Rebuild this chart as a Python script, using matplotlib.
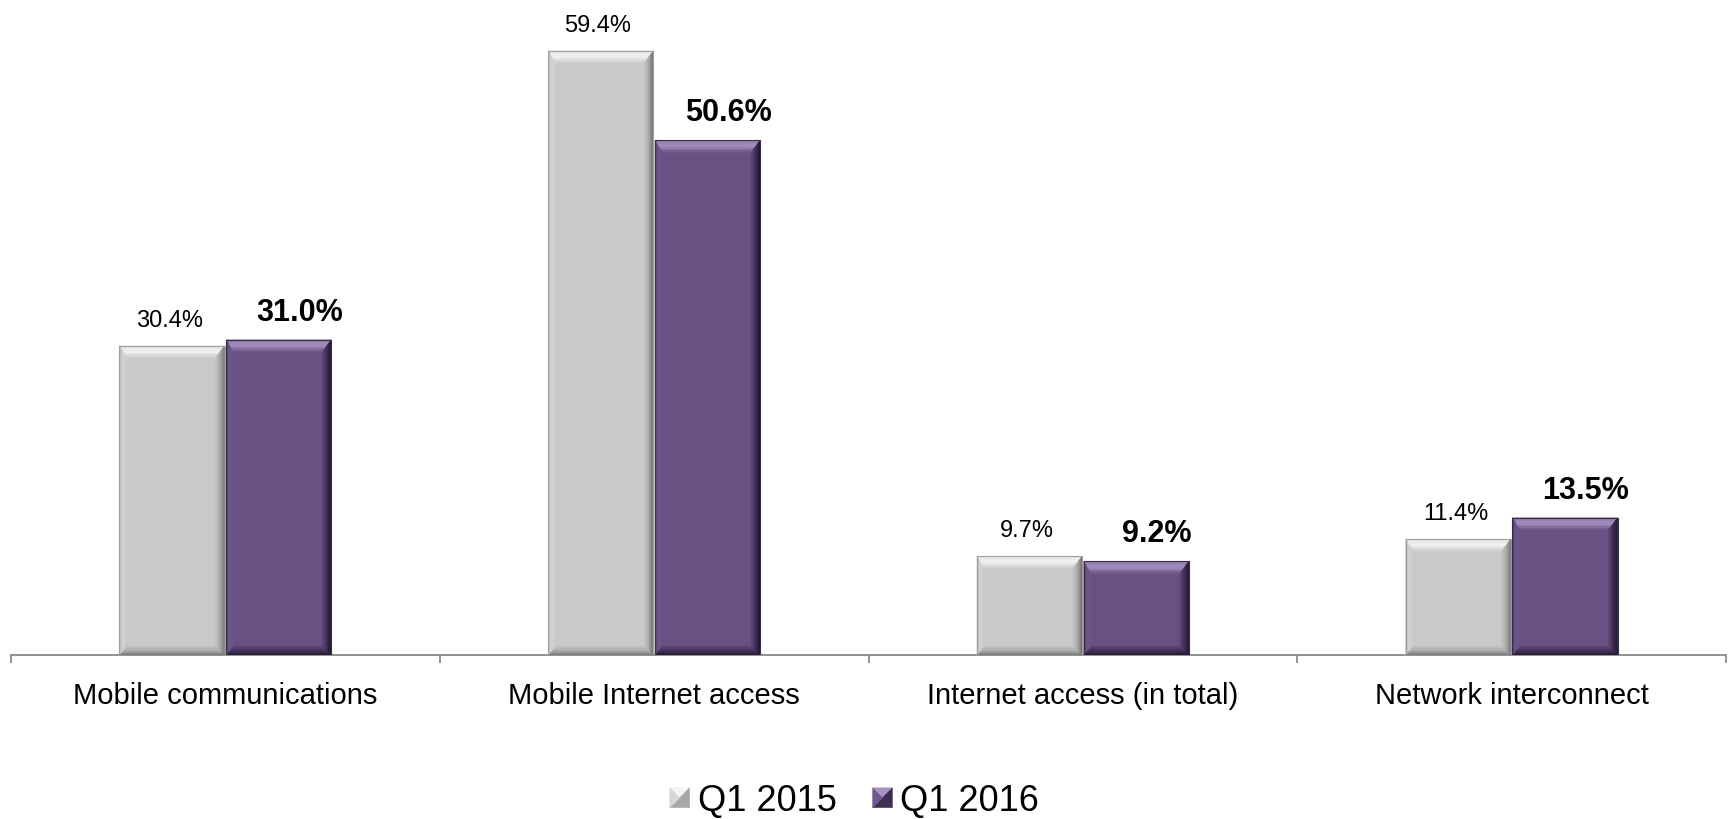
import numpy as np
import matplotlib.pyplot as plt
from matplotlib.colors import to_rgb
from matplotlib.patches import Polygon, Patch
from matplotlib.legend_handler import HandlerBase

# Datos del gráfico
categories = ['Mobile communications', 'Mobile Internet access',
              'Internet access (in total)', 'Network interconnect']
series_names = ['Q1 2015', 'Q1 2016']
q1_2015 = [30.4, 59.4, 9.7, 11.4]
q1_2016 = [31.0, 50.6, 9.2, 13.5]

# Colores de cara y biseles: (exterior, interior) para arriba, derecha, abajo, izquierda
styles = {
    'Q1 2015': dict(face='#C9C9C9', edge='#A0A0A0',
                    bevel=[('#E4E4E4', '#F4F4F4', '#CDCDCD'),
                           ('#6A6A6A', '#A5A5A5', '#C4C4C4'),
                           ('#777777', '#A8A8A8', '#C4C4C4'),
                           ('#B4B4B4', '#D6D6D6', '#CBCBCB')]),
    'Q1 2016': dict(face='#685183', edge='#3A2C48',
                    bevel=[('#8F7AAC', '#A793C2', '#6C5688'),
                           ('#1C1426', '#3A2C4E', '#5E4878'),
                           ('#241A31', '#3E2F52', '#5F4979'),
                           ('#4C3C62', '#6E5890', '#6A5385')]),
}

plt.rcParams['font.family'] = ['Liberation Sans', 'DejaVu Sans']

W, H = 1735, 820
fig = plt.figure(figsize=(W / 100, H / 100), dpi=100)
ax = fig.add_axes([11 / W, 164 / H, 1715 / W, 656 / H])

x = np.arange(len(categories))
width = 0.245
ax.set_xlim(-0.5, len(categories) - 0.5)
ax.set_ylim(0, 64.5)


def lerp(p, q, f):
    return (p[0] + f * (q[0] - p[0]), p[1] + f * (q[1] - p[1]))


def ramp(stops, f):
    """Color en una rampa de tres paradas (exterior, medio, interior)."""
    c = [np.array(to_rgb(s)) for s in stops]
    if f < 0.5:
        return tuple(c[0] + (c[1] - c[0]) * f * 2)
    return tuple(c[1] + (c[2] - c[1]) * (f - 0.5) * 2)


def add_bevel(ax, rect, st, t=12, r=9, b=9, l=7, n=8):
    """Dibuja el marco biselado de una barra (tamaños en píxeles)."""
    x0, y0 = rect.get_x(), rect.get_y()
    x1, y1 = x0 + rect.get_width(), y0 + rect.get_height()
    (px0, py0), (px1, py1) = ax.transData.transform([(x0, y0), (x1, y1)])
    outer = [(px0, py1), (px1, py1), (px1, py0), (px0, py0)]
    inner = [(px0 + l, py1 - t), (px1 - r, py1 - t), (px1 - r, py0 + b), (px0 + l, py0 + b)]
    inv = ax.transData.inverted()
    for side in range(4):
        i, j = side, (side + 1) % 4
        for k in range(n):
            f0, f1 = k / n, (k + 1) / n
            quad = [lerp(outer[i], inner[i], f0), lerp(outer[j], inner[j], f0),
                    lerp(outer[j], inner[j], f1), lerp(outer[i], inner[i], f1)]
            col = ramp(st['bevel'][side], (f0 + f1) / 2)
            ax.add_patch(Polygon(inv.transform(quad), closed=True, facecolor=col,
                                 edgecolor=col, linewidth=0.3, zorder=3))
    ax.add_patch(plt.Rectangle((x0, y0), x1 - x0, y1 - y0, fill=False,
                               edgecolor=st['edge'], linewidth=0.8, zorder=4))


for vals, name, off in [(q1_2015, series_names[0], -0.1245),
                        (q1_2016, series_names[1], 0.1245)]:
    st = styles[name]
    bars = ax.bar(x + off, vals, width, color=st['face'], zorder=2)
    for rect, v in zip(bars, vals):
        add_bevel(ax, rect, st)
        cx = rect.get_x() + rect.get_width() / 2
        if name == 'Q1 2016':
            ax.annotate(f'{v:.1f}%', xy=(cx, v), xytext=(15, 14.4),
                        textcoords='offset points', ha='center', va='baseline',
                        fontsize=22, fontweight='bold', color='black')
        else:
            ax.annotate(f'{v:.1f}%', xy=(cx, v), xytext=(-2, 14.4),
                        textcoords='offset points', ha='center', va='baseline',
                        fontsize=17, color='black')

# Ejes
for s in ['top', 'left', 'right']:
    ax.spines[s].set_visible(False)
ax.spines['bottom'].set_color('#898989')
ax.spines['bottom'].set_linewidth(1.3)
ax.set_yticks([])
ax.set_xticks(x)
ax.set_xticklabels(categories)
ax.tick_params(axis='x', which='major', length=0, labelsize=21, pad=18.5)
ax.set_xticks(np.arange(len(categories) + 1) - 0.5, minor=True)
ax.tick_params(axis='x', which='minor', length=6, width=1.3, color='#898989',
               direction='out')


class BevelSquareHandler(HandlerBase):
    """Cuadro de leyenda en forma de pirámide."""
    def create_artists(self, legend, orig_handle, xdescent, ydescent,
                       width, height, fontsize, trans):
        st = styles[orig_handle.get_label()]
        s = min(width, height)
        x0, y0 = -xdescent, -ydescent + (height - s) / 2
        A, B, C, D = (x0, y0 + s), (x0 + s, y0 + s), (x0 + s, y0), (x0, y0)
        m = (x0 + s / 2, y0 + s / 2)
        tris = [[A, B, m], [B, C, m], [C, D, m], [D, A, m]]
        arts = []
        for tri, stops in zip(tris, st['bevel']):
            col = ramp(stops, 0.5)
            arts.append(Polygon(tri, closed=True, facecolor=col, edgecolor=col,
                                linewidth=0.3, transform=trans))
        return arts


handles = [Patch(facecolor=styles[n]['face'], label=n) for n in series_names]
fig.legend(handles, series_names, loc='center', bbox_to_anchor=(0.4925, 18 / H),
           ncol=2, frameon=False, fontsize=26, handlelength=0.55,
           handleheight=0.55, handletextpad=0.22, columnspacing=1.0,
           handler_map={Patch: BevelSquareHandler()})

fig.savefig('out.png', dpi=100)
